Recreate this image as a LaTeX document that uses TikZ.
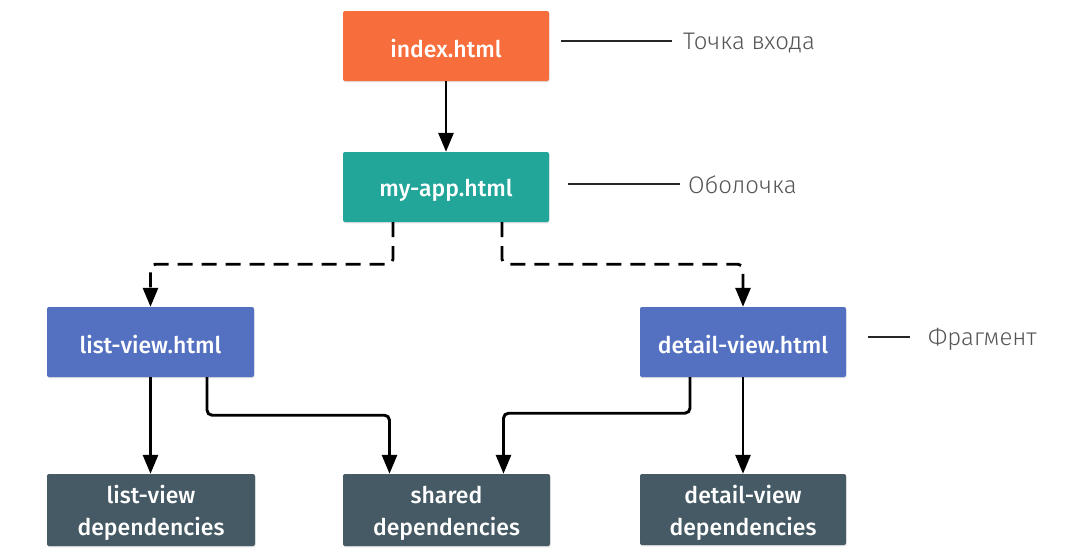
\documentclass[tikz,border=0pt]{standalone}
\usepackage{fontspec}
\usetikzlibrary{arrows.meta,shadows}
\newfontfamily\boxfont{Fira Sans Medium}
\newfontfamily\labfont{Fira Sans Light}
\newcommand\dn[1]{\raisebox{-3pt}[\height][\depth]{#1}}
\definecolor{cOrange}{HTML}{F76D3B}
\definecolor{cTeal}{HTML}{22A69A}
\definecolor{cBlue}{HTML}{5470C1}
\definecolor{cDark}{HTML}{455A64}
\definecolor{cLab}{HTML}{555555}
\tikzset{
  fbox/.style={rectangle, rounded corners=2pt, text=white, align=center,
    font=\boxfont\fontsize{23}{32}\selectfont, inner sep=0pt,
    drop shadow={shadow xshift=0.6pt, shadow yshift=-1.4pt, opacity=0.22}},
  arr/.style={line width=2.9pt, -{Triangle[length=19pt,width=15pt]}, rounded corners=5pt},
  dasharr/.style={arr, dash pattern=on 15pt off 9pt},
  labline/.style={line width=1.3pt, draw=black!85},
  lab/.style={anchor=base west, text=cLab, font=\labfont\fontsize{24}{28}\selectfont, inner sep=0pt},
}
\begin{document}
\begin{tikzpicture}[x=1pt,y=-1pt]
\useasboundingbox[fill=white] (0,0) rectangle (1078,557);
\node[fbox, fill=cOrange, minimum width=206pt, minimum height=70pt] (idx) at (446,46) {\dn{index.html}};
\node[fbox, fill=cTeal, minimum width=206pt, minimum height=70pt] (app) at (446,187) {\dn{my-app.html}};
\node[fbox, fill=cBlue, minimum width=207pt, minimum height=70pt] (lv) at (150.5,342) {\dn{list-view.html}};
\node[fbox, fill=cBlue, minimum width=206pt, minimum height=70pt] (dv) at (743,342) {\dn{detail-view.html}};
\node[fbox, fill=cDark, minimum width=208pt, minimum height=72pt] (lvd) at (151,510) {\dn{list-view}\\\dn{dependencies}};
\node[fbox, fill=cDark, minimum width=207pt, minimum height=72pt] (sd) at (446.5,510) {\dn{shared}\\\dn{dependencies}};
\node[fbox, fill=cDark, minimum width=206pt, minimum height=71pt] (dvd) at (743,509.5) {\dn{detail-view}\\\dn{dependencies}};

\draw[arr] (idx) -- (app);
\draw[dasharr] ([xshift=-53pt]app.south) -- ++(0,42) -| (lv.north);
\draw[dasharr] ([xshift=56pt]app.south) -- ++(0,42) -| (dv.north);
\draw[arr] (lv.south) -- (lv.south |- lvd.north);
\draw[arr] ([xshift=56.5pt]lv.south) -- ++(0,38) -| ([xshift=-57pt]sd.north);
\draw[arr] ([xshift=-53pt]dv.south) -- ++(0,36) -| ([xshift=57pt]sd.north);
\draw[arr] (dv.south) -- (dvd.north);

\coordinate (t1a) at (561,41); \coordinate (t1b) at (672,41);
\coordinate (t2a) at (568,184); \coordinate (t2b) at (680,184);
\coordinate (t3a) at (868,337); \coordinate (t3b) at (910,337);
\draw[labline] (t1a) -- (t1b);
\draw[labline] (t2a) -- (t2b);
\draw[labline] (t3a) -- (t3b);
\node[lab] (l1) at (683,49) {Точка входа};
\node[lab] (l2) at (688,193) {Оболочка};
\node[lab] (l3) at (928,345) {Фрагмент};
\end{tikzpicture}
\end{document}
